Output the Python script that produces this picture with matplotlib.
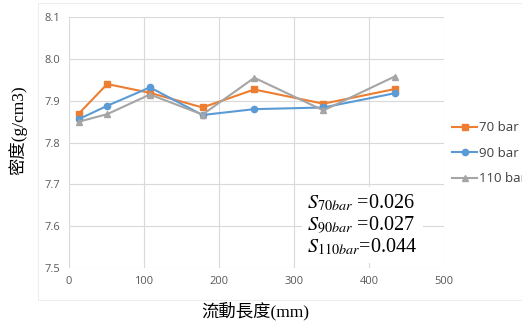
import matplotlib.pyplot as plt
from matplotlib.patches import Rectangle

plt.rcParams['mathtext.fontset'] = 'stix'

# flow length positions (mm) and measured densities (g/cm3)
length_mm = [13, 51, 108, 178, 247, 339, 434]
dens_70 = [7.869, 7.940, 7.919, 7.884, 7.927, 7.893, 7.928]
dens_90 = [7.856, 7.888, 7.932, 7.866, 7.880, 7.884, 7.918]
dens_110 = [7.850, 7.868, 7.915, 7.867, 7.955, 7.877, 7.958]
series_labels = ['70 bar', '90 bar', '110 bar']
std_texts = [r'$S_{70bar}$ =0.026', r'$S_{90bar}$ =0.027', r'$S_{110bar}$=0.044']

fig = plt.figure(figsize=(5.22, 3.29), dpi=100)
ax = fig.add_axes([0.132, 0.185, 0.719, 0.763])

# faint chart-area frame
fig.patches.append(Rectangle((0.072, 0.088), 0.93, 0.903, transform=fig.transFigure,
                             fill=False, edgecolor='#eeeeee', linewidth=0.8))

styles = [('#ED7D31', 's', 4.5), ('#5B9BD5', 'o', 4.5), ('#A5A5A5', '^', 4.5)]
for ys, lab, (c, m, ms) in zip([dens_70, dens_90, dens_110], series_labels, styles):
    ax.plot(length_mm, ys, color=c, marker=m, markersize=ms, linewidth=1.5, label=lab)

ax.set_xlim(0, 500)
ax.set_ylim(7.5, 8.1)
ax.set_xticks(range(0, 501, 100))
ax.set_yticks([7.5, 7.6, 7.7, 7.8, 7.9, 8.0, 8.1])
ax.set_yticklabels([f'{v:.1f}' for v in ax.get_yticks()])
ax.grid(True, color='#d9d9d9', linewidth=0.8)
ax.set_axisbelow(True)
for s in ax.spines.values():
    s.set_visible(False)
ax.tick_params(length=0, colors='#595959', labelsize=8, pad=6)
for t in ax.get_xticklabels() + ax.get_yticklabels():
    t.set_fontfamily(['Open Sans', 'DejaVu Sans'])

lab_font = ['Liberation Serif', 'Noto Sans CJK TC']
fig.text(0.49, 0.055, '流動長度(mm)', ha='center', va='center', fontsize=12.5,
         family=lab_font)
fig.text(0.035, 0.605, '密度(g/cm3)', ha='center', va='center', fontsize=12.5,
         rotation=90, family=lab_font)

ax.text(0.635, 0.30, '\n'.join(std_texts), transform=ax.transAxes, ha='left', va='top',
        fontsize=14.5, family='Liberation Serif', linespacing=1.05,
        bbox=dict(facecolor='white', edgecolor='none', pad=4))

leg = ax.legend(loc='center left', bbox_to_anchor=(0.99, 0.458), frameon=False,
                handlelength=1.9, handletextpad=0.15, labelspacing=0.95,
                labelcolor='#404040', prop={'family': ['Open Sans', 'DejaVu Sans'], 'size': 9.5})

fig.savefig('out.png', dpi=100)
